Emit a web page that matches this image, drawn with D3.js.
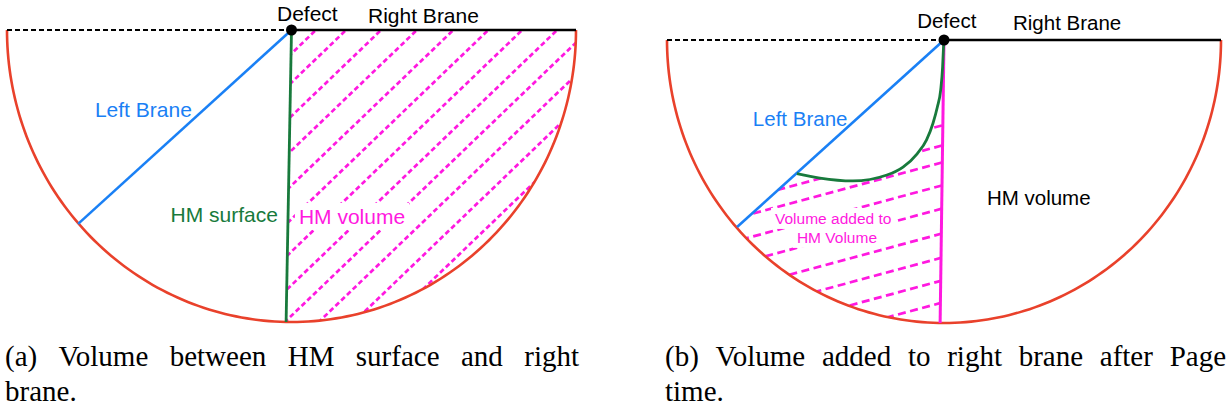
<!DOCTYPE html>
<html><head><meta charset="utf-8">
<script src="https://cdn.jsdelivr.net/npm/d3@7"></script>
<style>body{margin:0;background:#fff}svg{display:block}</style>
</head><body>
<svg id="c" width="1229" height="410"></svg>
<script>
// ---- Data (diagram units: x in [-1,1] across the bulk, y in [0,1] depth below the boundary) ----
const leftBraneEndA = [-0.750, 0.664];
const hmSurfaceA = [[0, 0], [-0.019, 1]];
const hatchInterceptsA = [0.086, 0.192, 0.315, 0.441, 0.569, 0.692, 0.811, 0.934, 1.046, 1.165, 1.288, 1.411];
const labelsA = [
  {text: "Defect", x: -0.051, y: -0.031, color: "#000"},
  {text: "Right Brane", x: 0.269, y: -0.024, color: "#000"},
  {text: "Left Brane", x: -0.691, y: 0.298, color: "#1a80f5"},
  {text: "HM surface", x: -0.425, y: 0.657, color: "#187a3c"},
  {text: "HM volume", x: 0.026, y: 0.664, color: "#ff19e0", bg: true}
];
const leftBraneEndB = [-0.747, 0.661];
const hmCurveB = [[-0.531,0.472],[-0.448,0.488],[-0.329,0.498],[-0.206,0.477],[-0.148,0.449],[-0.097,0.402],[-0.063,0.353],[-0.040,0.295],[-0.024,0.237],[-0.012,0.177],[-0.005,0.095],[-0.002,0.030],[0,0]];
const hmBoundaryB = [[0, 0], [-0.014, 1]];
const hatchInterceptsB = [0.300, 0.371, 0.431, 0.512, 0.594, 0.682, 0.767, 0.848, 0.926];
const labelsB = [
  {text: "Defect", x: -0.097, y: -0.042, color: "#000"},
  {text: "Right Brane", x: 0.249, y: -0.035, color: "#000"},
  {text: "Left Brane", x: -0.690, y: 0.304, color: "#1a80f5"},
  {text: "HM volume", x: 0.155, y: 0.583, color: "#000"},
  {text: "Volume added to", x: -0.610, y: 0.650, color: "#ff19e0", small: true, bg: true},
  {text: "HM Volume", x: -0.531, y: 0.717, color: "#ff19e0", small: true, bg: true}
];
const captionA = ["(a) Volume between HM surface and right", "brane."];
const captionB = ["(b) Volume added to right brane after Page", "time."];

// ---- Drawing ----
const svg = d3.select("#c");
const RED = "#e9412b", BLUE = "#1a80f5", GREEN = "#187a3c", MAG = "#ff19e0";

function arcPts(x, y, t0, t1) {
  const n = 160;
  return d3.range(n + 1).map(i => { const t = t0 + (t1 - t0) * i / n; return [x(Math.cos(t)), y(Math.sin(t))]; });
}

function drawLabels(g, x, y, labels, size, smallSize) {
  const bgL = g.append("g"), txL = g.append("g");
  labels.forEach(l => {
    const t = txL.append("text").attr("x", x(l.x)).attr("y", y(l.y))
      .attr("font-family", "Liberation Sans, Arial, sans-serif")
      .attr("font-size", l.small ? smallSize : size).attr("fill", l.color).text(l.text);
    if (l.bg) {
      const b = t.node().getBBox();
      bgL.append("rect").attr("x", b.x - 4).attr("y", b.y - 2).attr("width", b.width + 8).attr("height", b.height + 4).attr("fill", "#fff");
    }
  });
}

// Panel A
(function () {
  const x = d3.scaleLinear([-1, 1], [7, 576]);
  const y = d3.scaleLinear([0, 1], [30, 322]);
  const g = svg.append("g");
  const line = d3.line();
  const thG = Math.acos(hmSurfaceA[1][0]);
  const clipPts = [[x(0), y(0)], [x(1), y(0)], ...arcPts(x, y, 0, thG), [x(hmSurfaceA[1][0]), y(hmSurfaceA[1][1])]];
  g.append("clipPath").attr("id", "clipA").append("path").attr("d", line(clipPts) + "Z");
  const H = y(1) - y(0);
  g.append("g").attr("clip-path", "url(#clipA)").selectAll("line").data(hatchInterceptsA).join("line")
    .attr("x1", d => x(d) + 10 / 0.96).attr("y1", y(0) - 10)
    .attr("x2", d => x(d) - (H + 10) / 0.96).attr("y2", y(1) + 10)
    .attr("stroke", MAG).attr("stroke-width", 2.7).attr("stroke-dasharray", "5,3");
  drawLabels(g, x, y, labelsA, 21, 15.5);
  g.append("path").attr("d", line(arcPts(x, y, 0, Math.PI))).attr("fill", "none").attr("stroke", RED).attr("stroke-width", 2.6);
  g.append("line").attr("x1", x(-1)).attr("y1", y(0)).attr("x2", x(0)).attr("y2", y(0)).attr("stroke", "#000").attr("stroke-width", 2.2).attr("stroke-dasharray", "5,3");
  g.append("line").attr("x1", x(0)).attr("y1", y(0)).attr("x2", x(1)).attr("y2", y(0)).attr("stroke", "#000").attr("stroke-width", 2.6);
  g.append("line").attr("x1", x(0)).attr("y1", y(0)).attr("x2", x(leftBraneEndA[0])).attr("y2", y(leftBraneEndA[1])).attr("stroke", BLUE).attr("stroke-width", 2.6);
  g.append("path").attr("d", line(hmSurfaceA.map(p => [x(p[0]), y(p[1])]))).attr("stroke", GREEN).attr("stroke-width", 2.8);
  g.append("circle").attr("cx", x(0)).attr("cy", y(0)).attr("r", 5.5).attr("fill", "#000");
})();

// Panel B
(function () {
  const x = d3.scaleLinear([-1, 1], [667, 1221]);
  const y = d3.scaleLinear([0, 1], [40, 323]);
  const g = svg.append("g");
  const line = d3.line();
  const thM = Math.acos(hmBoundaryB[1][0]);
  const thB = Math.atan2(leftBraneEndB[1], leftBraneEndB[0]);
  const curvePx = hmCurveB.map(p => [x(p[0]), y(p[1])]);
  const curveGen = d3.line().curve(d3.curveMonotoneX);
  const clipPts = [...curvePx, [x(hmBoundaryB[1][0]), y(hmBoundaryB[1][1])], ...arcPts(x, y, thM, thB)];
  g.append("clipPath").attr("id", "clipB").append("path").attr("d", line(clipPts) + "Z");
  const slope = 0.27;
  const W = x(0) - x(-1);
  g.append("g").attr("clip-path", "url(#clipB)").selectAll("line").data(hatchInterceptsB).join("line")
    .attr("x1", x(0) + 10).attr("y1", d => y(d) - 10 * slope)
    .attr("x2", x(-1)).attr("y2", d => y(d) + W * slope)
    .attr("stroke", MAG).attr("stroke-width", 2.7).attr("stroke-dasharray", "8,4.5");
  drawLabels(g, x, y, labelsB, 20.5, 15.5);
  g.append("path").attr("d", line(arcPts(x, y, 0, Math.PI))).attr("fill", "none").attr("stroke", RED).attr("stroke-width", 2.6);
  g.append("line").attr("x1", x(-1)).attr("y1", y(0)).attr("x2", x(0)).attr("y2", y(0)).attr("stroke", "#000").attr("stroke-width", 2.2).attr("stroke-dasharray", "5,3");
  g.append("line").attr("x1", x(0)).attr("y1", y(0)).attr("x2", x(1)).attr("y2", y(0)).attr("stroke", "#000").attr("stroke-width", 2.6);
  g.append("line").attr("x1", x(0)).attr("y1", y(0)).attr("x2", x(leftBraneEndB[0])).attr("y2", y(leftBraneEndB[1])).attr("stroke", BLUE).attr("stroke-width", 2.6);
  g.append("path").attr("d", line(hmBoundaryB.map(p => [x(p[0]), y(p[1])]))).attr("stroke", MAG).attr("stroke-width", 3);
  g.append("path").attr("d", curveGen(curvePx)).attr("fill", "none").attr("stroke", GREEN).attr("stroke-width", 2.8);
  g.append("circle").attr("cx", x(0)).attr("cy", y(0)).attr("r", 5.5).attr("fill", "#000");
})();

// Captions (first line justified word by word, like LaTeX)
function caption(lines, x0, width) {
  const g = svg.append("g").attr("font-family", "Liberation Serif, Times New Roman, serif").attr("font-size", 29).attr("fill", "#000");
  const words = lines[0].split(" ");
  const nodes = words.map(w => g.append("text").attr("y", 366).text(w));
  const ws = nodes.map(n => n.node().getComputedTextLength());
  const gap = (width - d3.sum(ws)) / (words.length - 1);
  let cx = x0;
  nodes.forEach((n, i) => { n.attr("x", cx); cx += ws[i] + gap; });
  g.append("text").attr("x", x0).attr("y", 401).text(lines[1]);
}
caption(captionA, 5, 574);
caption(captionB, 665, 561);
</script>
</body></html>
